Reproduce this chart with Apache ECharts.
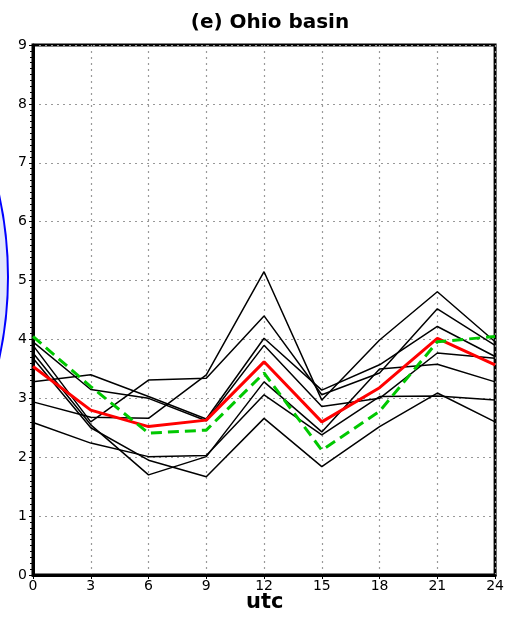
<!DOCTYPE html>
<html><head><meta charset="utf-8">
<script src="https://cdn.jsdelivr.net/npm/echarts@6/dist/echarts.min.js"></script>
<style>html,body{margin:0;padding:0;background:#fff}#c{width:507px;height:619px}</style>
</head><body><div id="c"></div>
<script>
const hours = [0, 3, 6, 9, 12, 15, 18, 21, 24];
const yTicks = [0,1,2,3,4,5,6,7,8,9];
const member1 = [2.94, 2.68, 2.66, 3.40, 5.15, 2.97, 3.99, 4.81, 3.96];
const member2 = [3.90, 2.60, 3.31, 3.34, 4.40, 3.06, 3.43, 4.52, 3.90];
const member3 = [3.28, 3.40, 3.03, 2.65, 4.02, 3.14, 3.57, 4.22, 3.71];
const member4 = [3.96, 3.15, 3.00, 2.62, 3.90, 2.86, 3.00, 3.77, 3.68];
const member5 = [3.77, 2.55, 1.70, 2.01, 3.28, 2.43, 3.50, 3.58, 3.28];
const member6 = [3.68, 2.50, 1.95, 1.67, 2.66, 1.84, 2.52, 3.09, 2.60];
const member7 = [2.59, 2.24, 2.01, 2.03, 3.06, 2.38, 3.03, 3.04, 2.97];
const ensembleMean = [3.54, 2.80, 2.52, 2.63, 3.62, 2.60, 3.18, 4.02, 3.57];
const observed = [4.05, 3.20, 2.41, 2.46, 3.43, 2.12, 2.78, 3.96, 4.05];

const members = [member1, member2, member3, member4, member5, member6, member7];
const toPts = arr => hours.map((h, i) => [h, arr[i]]);
const font = 'DejaVu Sans';

const series = members.map(m => ({
  type: 'line', data: toPts(m), symbol: 'none', animation: false,
  lineStyle: { color: '#000', width: 1.5 }, z: 3
}));
series.push({
  type: 'line', data: toPts(ensembleMean), symbol: 'none', animation: false,
  lineStyle: { color: '#ff0000', width: 3 }, z: 4
});
series.push({
  type: 'line', data: toPts(observed), symbol: 'none', animation: false,
  lineStyle: { color: '#00c800', width: 3, type: [11, 6] }, z: 5
});

const chart = echarts.init(document.getElementById('c'), null, { renderer: 'canvas' });
chart.setOption({
  backgroundColor: '#fff',
  animation: false,
  title: {
    text: '(e) Ohio basin', left: 265, top: 8, textAlign: 'center',
    textStyle: { fontFamily: font, fontWeight: 'bold', fontSize: 20, color: '#000' }
  },
  graphic: [
    { type: 'circle', shape: { cx: -373, cy: 277, r: 381 }, z: -10,
      style: { fill: '#e2e7fb', stroke: '#0000ff', lineWidth: 2 } },
    { type: 'text', left: 246, top: 592, z: 10,
      style: { text: 'utc', font: 'bold 21px "DejaVu Sans"', fill: '#000' } }
  ],
  grid: { left: 33, right: 9, top: 45, bottom: 44, show: true, borderColor: '#000', borderWidth: 3, backgroundColor: 'transparent' },
  xAxis: {
    type: 'value', min: 0, max: 24, interval: 3,
    axisLine: { show: true, lineStyle: { color: '#000', width: 3 } },
    axisTick: { show: true, inside: false, length: 4, lineStyle: { color: '#000', width: 1 } },
    minorTick: { show: true, splitNumber: 6, length: 2, lineStyle: { color: '#000' } },
    axisLabel: { color: '#000', fontFamily: font, fontSize: 14, margin: 4,
      formatter: v => hours.includes(v) ? String(v) : '' },
    splitLine: { show: true, lineStyle: { color: '#999', width: 1.2, type: [2, 4] } }
  },
  yAxis: {
    type: 'value', min: 0, max: 9, interval: 1,
    axisLine: { show: true, lineStyle: { color: '#000', width: 3 } },
    axisTick: { show: true, inside: false, length: 4, lineStyle: { color: '#000', width: 1 } },
    minorTick: { show: true, splitNumber: 10, length: 3, lineStyle: { color: '#000' } },
    axisLabel: { color: '#000', fontFamily: font, fontSize: 14, margin: 6,
      formatter: v => yTicks.includes(v) ? String(v) : '' },
    splitLine: { show: true, lineStyle: { color: '#999', width: 1.2, type: [2, 4] } }
  },
  series: series
});
</script></body></html>
